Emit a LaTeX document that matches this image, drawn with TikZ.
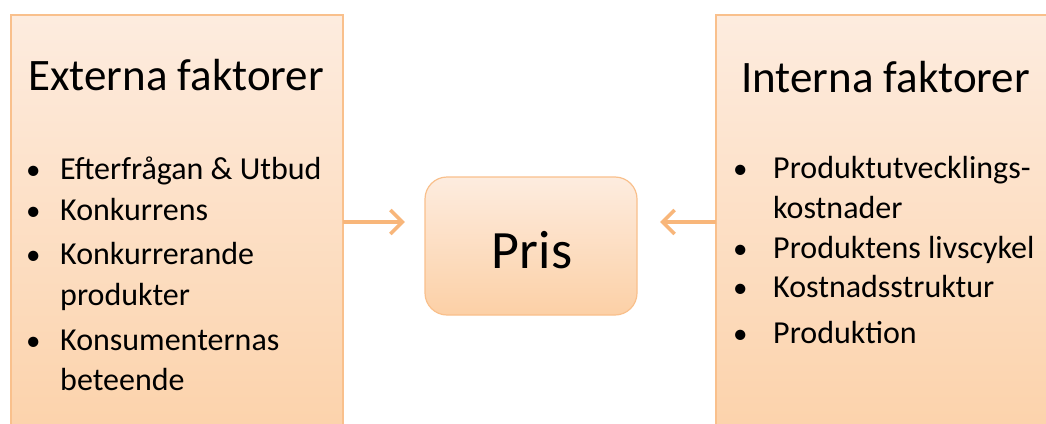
\documentclass[tikz,border=0pt]{standalone}
\usepackage{fontspec}
\setmainfont{Carlito}
\usetikzlibrary{arrows.meta}
\definecolor{boxtop}{RGB}{253,236,223}
\definecolor{boxbot}{RGB}{252,208,166}
\definecolor{boxline}{RGB}{249,192,140}
\definecolor{arrowc}{RGB}{248,182,122}
\tikzset{
  factorbox/.style={draw=boxline, line width=1.2pt, top color=boxtop, bottom color=boxbot},
  prisbox/.style={draw=boxline, line width=1.2pt, rounded corners=22pt, top color=boxtop, bottom color=boxbot},
  title/.style={anchor=base west, inner sep=0pt, font=\fontsize{45}{45}\selectfont},
  item/.style={anchor=base west, inner sep=0pt, font=\fontsize{32}{32}\selectfont},
  bul/.style={anchor=base west, inner sep=0pt, font=\fontsize{29}{29}\selectfont},
  conn/.style={draw=arrowc, line width=3.5pt, -{Straight Barb[length=12pt,width=24pt]}},
}
\begin{document}
\begin{tikzpicture}[x=1pt,y=-1pt]
\useasboundingbox (0,0) rectangle (1046,423);
\clip (0,0) rectangle (1046,423);
\fill[white] (0,0) rectangle (1046,423);
% boxes
\path[factorbox] (11,15) rectangle (343,470);
\path[factorbox] (716,15) rectangle (1100,470);
\coordinate (L) at (343,222);
\coordinate (R) at (716,222);
\path[prisbox] (425,177) rectangle (637,315);
\node[inner sep=0pt, minimum width=212pt, minimum height=138pt] (pris) at (531,246) {};
\node[anchor=base, inner sep=0pt, font=\fontsize{54}{54}\selectfont] (pristxt) at (532,268) {Pris};
\coordinate (LT) at ([xshift=-20pt]pris.west |- L);
\coordinate (RT) at ([xshift=23pt]pris.east |- R);
% titles
\node[title] (ext) at (28,90) {Externa faktorer};
\node[title] (int) at (741,92) {Interna faktorer};
% left list
\node[bul] (lb1) at (26,179) {•};
\node[item] (l1) at (60,179) {Efterfrågan \& Utbud};
\node[bul] (lb2) at (26,220) {•};
\node[item] (l2) at (60,220) {Konkurrens};
\node[bul] (lb3) at (26,264) {•};
\node[item] (l3) at (60,264) {Konkurrerande};
\node[item] (l3b) at (60,305) {produkter};
\node[bul] (lb4) at (26,350) {•};
\node[item] (l4) at (60,350) {Konsumenternas};
\node[item] (l4b) at (60,390) {beteende};
% right list
\node[bul] (rb1) at (733,178) {•};
\node[item] (r1) at (773,178) {Produktutvecklings-};
\node[item] (r1b) at (773,218) {kostnader};
\node[bul] (rb2) at (733,258) {•};
\node[item] (r2) at (773,258) {Produktens livscykel};
\node[bul] (rb3) at (733,297) {•};
\node[item] (r3) at (773,297) {Kostnadsstruktur};
\node[bul] (rb4) at (733,343) {•};
\node[item] (r4) at (773,343) {Produktion};
% connectors
\draw[conn] (L) -- (LT);
\draw[conn] (R) -- (RT);
\end{tikzpicture}
\end{document}
